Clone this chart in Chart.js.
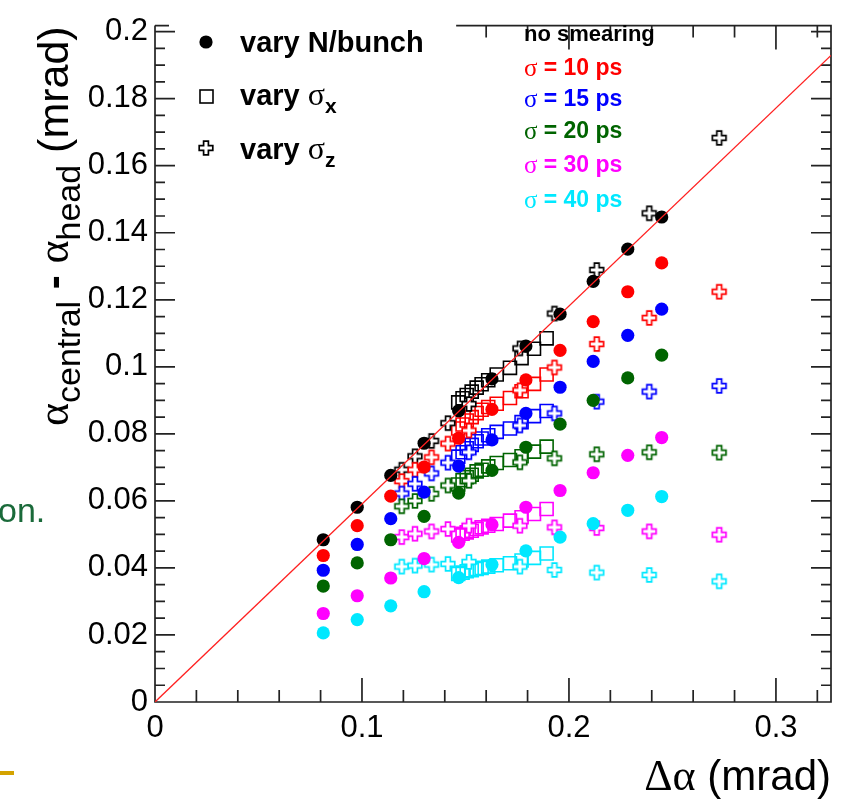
<!DOCTYPE html>
<html>
<head>
<meta charset="utf-8">
<script src="https://cdn.jsdelivr.net/npm/chart.js@4.4.1/dist/chart.umd.min.js"></script>
<style>
  html, body { margin: 0; padding: 0; background: #fff; }
  #wrap { width: 842px; height: 802px; }
</style>
</head>
<body>
<div id="wrap"><canvas id="plot" width="842" height="802"></canvas></div>
<script>
// Axis ranges and tick labels
const xRange = [0, 0.3266];
const yRange = [0, 0.2018];
const xTickValues = [0, 0.1, 0.2, 0.3];
const yTickValues = [0, 0.02, 0.04, 0.06, 0.08, 0.1, 0.12, 0.14, 0.16, 0.18, 0.2];

// Legend / annotation text
const markerLabels = ['vary N/bunch', 'vary ', 'vary '];
const smearLabels = ['no smearing', '= 10 ps', '= 15 ps', '= 20 ps', '= 30 ps', '= 40 ps'];
const smearColors = ['#000000', '#ff0000', '#0000ff', '#006400', '#ff00ff', '#00e8ff'];

// vary N/bunch (filled circles): x positions, then y for each smearing
const nbX = [0.0813, 0.0977, 0.1139, 0.1300, 0.1467, 0.1628, 0.1792, 0.1957, 0.2117, 0.2284, 0.2448];
const nbNone = [0.0484, 0.0581, 0.0676, 0.0772, 0.0869, 0.0964, 0.1062, 0.1157, 0.1255, 0.1351, 0.1447];
const nb10 = [0.0437, 0.0526, 0.0614, 0.0701, 0.0787, 0.0873, 0.0961, 0.1049, 0.1135, 0.1224, 0.1310];
const nb15 = [0.0393, 0.0470, 0.0547, 0.0626, 0.0704, 0.0782, 0.0861, 0.0939, 0.1016, 0.1094, 0.1172];
const nb20 = [0.0346, 0.0415, 0.0484, 0.0554, 0.0623, 0.0691, 0.0760, 0.0829, 0.0900, 0.0967, 0.1035];
const nb30 = [0.0264, 0.0317, 0.0370, 0.0428, 0.0476, 0.0529, 0.0581, 0.0631, 0.0684, 0.0736, 0.0789];
const nb40 = [0.0206, 0.0246, 0.0287, 0.0329, 0.0371, 0.0410, 0.0451, 0.0492, 0.0532, 0.0572, 0.0613];

// vary sigma_x (open squares)
const sxX = [0.1465, 0.1486, 0.1506, 0.1530, 0.1554, 0.1578, 0.1610, 0.1651, 0.1715, 0.1771, 0.1831, 0.1892];
const sxNone = [0.0894, 0.0906, 0.0916, 0.0926, 0.0938, 0.0948, 0.0960, 0.0977, 0.0997, 0.1026, 0.1054, 0.1085];
const sx10 = [0.0816, 0.0828, 0.0840, 0.0850, 0.0862, 0.0872, 0.0880, 0.0890, 0.0907, 0.0927, 0.0949, 0.0977];
const sx15 = [0.0732, 0.0745, 0.0757, 0.0767, 0.0778, 0.0786, 0.0796, 0.0806, 0.0816, 0.0835, 0.0853, 0.0868];
const sx20 = [0.0649, 0.0662, 0.0671, 0.0678, 0.0688, 0.0693, 0.0703, 0.0713, 0.0722, 0.0733, 0.0747, 0.0762];
const sx30 = [0.0497, 0.0502, 0.0506, 0.0511, 0.0516, 0.0521, 0.0526, 0.0531, 0.0541, 0.0551, 0.0561, 0.0576];
const sx40 = [0.0382, 0.0386, 0.0390, 0.0393, 0.0397, 0.0400, 0.0404, 0.0408, 0.0414, 0.0422, 0.0430, 0.0443];

// vary sigma_z (open crosses)
const szX = [0.1192, 0.1256, 0.1336, 0.1415, 0.1517, 0.1763, 0.1930, 0.2134, 0.2388, 0.2726];
const szNone = [0.0693, 0.0733, 0.0779, 0.0832, 0.0889, 0.1055, 0.1159, 0.1289, 0.1458, 0.1683];
const sz10 = [0.0659, 0.0693, 0.0730, 0.0771, 0.0810, 0.0930, 0.0998, 0.1068, 0.1146, 0.1224];
const sz15 = [0.0622, 0.0651, 0.0682, 0.0714, 0.0745, 0.0825, 0.0861, 0.0896, 0.0926, 0.0943];
const sz20 = [0.0584, 0.0600, 0.0621, 0.0646, 0.0660, 0.0715, 0.0727, 0.0739, 0.0745, 0.0744];
const sz30 = [0.0492, 0.0502, 0.0509, 0.0516, 0.0526, 0.0526, 0.0521, 0.0519, 0.0509, 0.0499];
const sz40 = [0.0404, 0.0407, 0.0410, 0.0412, 0.0418, 0.0404, 0.0394, 0.0386, 0.0379, 0.0360];

// red reference line
const lineX = [0, 0.3266];
const lineY = [0, 0.1929];

const nbSeries = [nbNone, nb10, nb15, nb20, nb30, nb40];
const sxSeries = [sxNone, sx10, sx15, sx20, sx30, sx40];
const szSeries = [szNone, sz10, sz15, sz20, sz30, sz40];

const SANS = '"Liberation Sans", Arial, sans-serif';
const SERIF = '"Liberation Serif", serif';

function pts(xs, ys) {
    return xs.map((x, i) => ({ x: x, y: ys[i] }));
}

// outlined plus marker (ROOT open cross)
function crossImage(color) {
    const c = document.createElement('canvas');
    c.width = 18; c.height = 18;
    const g = c.getContext('2d');
    const m = 9, a = 2.4, L = 6.8;
    g.beginPath();
    g.moveTo(m - a, m - L); g.lineTo(m + a, m - L); g.lineTo(m + a, m - a);
    g.lineTo(m + L, m - a); g.lineTo(m + L, m + a); g.lineTo(m + a, m + a);
    g.lineTo(m + a, m + L); g.lineTo(m - a, m + L); g.lineTo(m - a, m + a);
    g.lineTo(m - L, m + a); g.lineTo(m - L, m - a); g.lineTo(m - a, m - a);
    g.closePath();
    g.fillStyle = '#fff';
    g.fill();
    g.strokeStyle = color;
    g.lineWidth = 1.7;
    g.stroke();
    return c;
}

function buildDatasets() {
    const sets = [];
    sets.push({
        type: 'line', data: pts(lineX, lineY), borderColor: '#ff2020', borderWidth: 1.3,
        pointRadius: 0, fill: false, order: 0
    });
    for (let k = 0; k < 6; k++) {
        sets.push({
            data: pts(nbX, nbSeries[k]), pointStyle: 'circle', pointRadius: 6.6,
            backgroundColor: smearColors[k], borderWidth: 0, order: 1 + (5 - k) * 0.01
        });
        sets.push({
            data: pts(szX, szSeries[k]), pointStyle: crossImage(smearColors[k]), pointRadius: 7,
            order: 2 + (5 - k) * 0.01
        });
        sets.push({
            data: pts(sxX, sxSeries[k]), pointStyle: 'rect', pointRadius: 9.2,
            backgroundColor: 'rgba(0,0,0,0)', borderColor: smearColors[k], borderWidth: 1.6,
            order: 3 + (5 - k) * 0.01
        });
    }
    return sets;
}

function tickLabel(v) {
    return String(+v.toFixed(2));
}

// Frame, inner ticks and all annotation text
const decorPlugin = {
    id: 'decor',
    beforeDatasetsDraw(chart) {
        const ctx = chart.ctx;
        const xs = chart.scales.x, ys = chart.scales.y;
        const a = chart.chartArea;
        const gapEnd = xs.getPixelForValue(0.1455);
        ctx.save();
        ctx.strokeStyle = '#222';
        ctx.lineWidth = 1.7;
        ctx.beginPath();
        ctx.moveTo(a.left, a.top); ctx.lineTo(a.left, a.bottom);
        ctx.lineTo(a.right, a.bottom); ctx.lineTo(a.right, a.top);
        ctx.lineTo(gapEnd, a.top);
        ctx.moveTo(a.left, a.top); ctx.lineTo(a.left + 14, a.top);
        // x ticks: minor every 0.02, major every 0.1
        for (let i = 0; i <= 16; i++) {
            const v = i * 0.02;
            const px = xs.getPixelForValue(v);
            if (px > a.right + 0.5) break;
            const len = (i % 5 === 0) ? 24 : 12;
            ctx.moveTo(px, a.bottom); ctx.lineTo(px, a.bottom - len);
            if (px >= gapEnd) {
                ctx.moveTo(px, a.top); ctx.lineTo(px, a.top + len);
            }
        }
        // y ticks: minor every 0.005, major every 0.02
        for (let i = 0; i <= 40; i++) {
            const v = i * 0.005;
            const py = ys.getPixelForValue(v);
            const len = (i % 4 === 0) ? 20 : 10;
            ctx.moveTo(a.left, py); ctx.lineTo(a.left + len, py);
            ctx.moveTo(a.right, py); ctx.lineTo(a.right - len, py);
        }
        ctx.stroke();
        ctx.restore();
    },
    afterDatasetsDraw(chart) {
        const ctx = chart.ctx;
        ctx.save();
        ctx.textBaseline = 'middle';
        ctx.textAlign = 'left';

        // left legend: markers + labels
        ctx.fillStyle = '#000';
        ctx.beginPath();
        ctx.arc(206, 42, 6.6, 0, Math.PI * 2);
        ctx.fill();
        ctx.strokeStyle = '#000';
        ctx.lineWidth = 1.6;
        ctx.strokeRect(200, 90, 13, 13);
        ctx.drawImage(crossImage('#000'), 197, 139);

        ctx.font = 'bold 29px ' + SANS;
        ctx.fillText(markerLabels[0], 240, 44);
        ctx.fillText(markerLabels[1], 240, 97);
        ctx.fillText(markerLabels[2], 240, 151);
        let w = ctx.measureText(markerLabels[1]).width;
        ctx.font = '32px ' + SERIF;
        ctx.fillText('σ', 240 + w, 97);
        ctx.fillText('σ', 240 + w, 151);
        const sw = ctx.measureText('σ').width;
        ctx.font = 'bold 21px ' + SANS;
        ctx.fillText('x', 240 + w + sw, 107);
        ctx.fillText('z', 240 + w + sw, 161);

        // right legend: smearing
        ctx.font = 'bold 22px ' + SANS;
        ctx.fillStyle = smearColors[0];
        ctx.fillText(smearLabels[0], 524, 35);
        const rowY = [69, 100, 132, 166, 201];
        for (let k = 1; k < 6; k++) {
            ctx.fillStyle = smearColors[k];
            ctx.font = '25px ' + SERIF;
            ctx.fillText('σ', 524, rowY[k - 1]);
            const s = ctx.measureText('σ ').width;
            ctx.font = 'bold 23px ' + SANS;
            ctx.fillText(smearLabels[k], 524 + s, rowY[k - 1]);
        }

        // y axis title (rotated)
        ctx.save();
        ctx.translate(68, 426);
        ctx.rotate(-Math.PI / 2);
        ctx.textBaseline = 'alphabetic';
        ctx.fillStyle = '#000';
        const parts = [
            ['α', '44px ' + SERIF, 0],
            ['central', '34px ' + SANS, 12],
            [' - ', 'bold 42px ' + SANS, 0],
            ['α', '44px ' + SERIF, 0],
            ['head', '34px ' + SANS, 12],
            [' (mrad)', '43px ' + SANS, 0]
        ];
        let x = 0;
        parts.forEach(p => {
            ctx.font = p[1];
            ctx.fillText(p[0], x, p[2]);
            x += ctx.measureText(p[0]).width;
        });
        ctx.restore();

        // x axis title
        ctx.textBaseline = 'alphabetic';
        ctx.textAlign = 'right';
        ctx.fillStyle = '#000';
        ctx.font = '42px ' + SANS;
        ctx.fillText(' (mrad)', 831, 790);
        const mw = ctx.measureText(' (mrad)').width;
        ctx.font = '44px ' + SERIF;
        ctx.fillText('Δα', 831 - mw, 790);

        // slide remnants on the left
        ctx.textAlign = 'left';
        ctx.fillStyle = '#1a6a3a';
        ctx.font = '34px ' + SANS;
        ctx.fillText('on.', -2, 522);
        ctx.fillStyle = '#d4a300';
        ctx.fillRect(0, 771, 14, 4);
        ctx.restore();
    }
};

function createChart() {
    const ctx = document.getElementById('plot').getContext('2d');
    return new Chart(ctx, {
        type: 'scatter',
        data: { datasets: buildDatasets() },
        plugins: [decorPlugin],
        options: {
            responsive: false,
            animation: false,
            devicePixelRatio: 1,
            events: [],
            layout: { padding: { left: 0, right: 11, top: 16, bottom: 0 } },
            plugins: { legend: { display: false }, tooltip: { enabled: false } },
            scales: {
                x: {
                    type: 'linear', min: xRange[0], max: xRange[1],
                    grid: { display: false, drawTicks: false },
                    border: { display: false },
                    afterBuildTicks: s => { s.ticks = xTickValues.map(v => ({ value: v })); },
                    afterFit: s => { s.height = 100; },
                    ticks: {
                        font: { family: SANS, size: 31 }, color: '#000', padding: 8,
                        maxRotation: 0, autoSkip: false, callback: tickLabel
                    }
                },
                y: {
                    type: 'linear', min: yRange[0], max: yRange[1],
                    grid: { display: false, drawTicks: false },
                    border: { display: false },
                    afterBuildTicks: s => { s.ticks = yTickValues.map(v => ({ value: v })); },
                    afterFit: s => { s.width = 155; },
                    ticks: {
                        font: { family: SANS, size: 31 }, color: '#000', padding: 7,
                        autoSkip: false, callback: tickLabel
                    }
                }
            }
        }
    });
}

createChart();
</script>
</body>
</html>
